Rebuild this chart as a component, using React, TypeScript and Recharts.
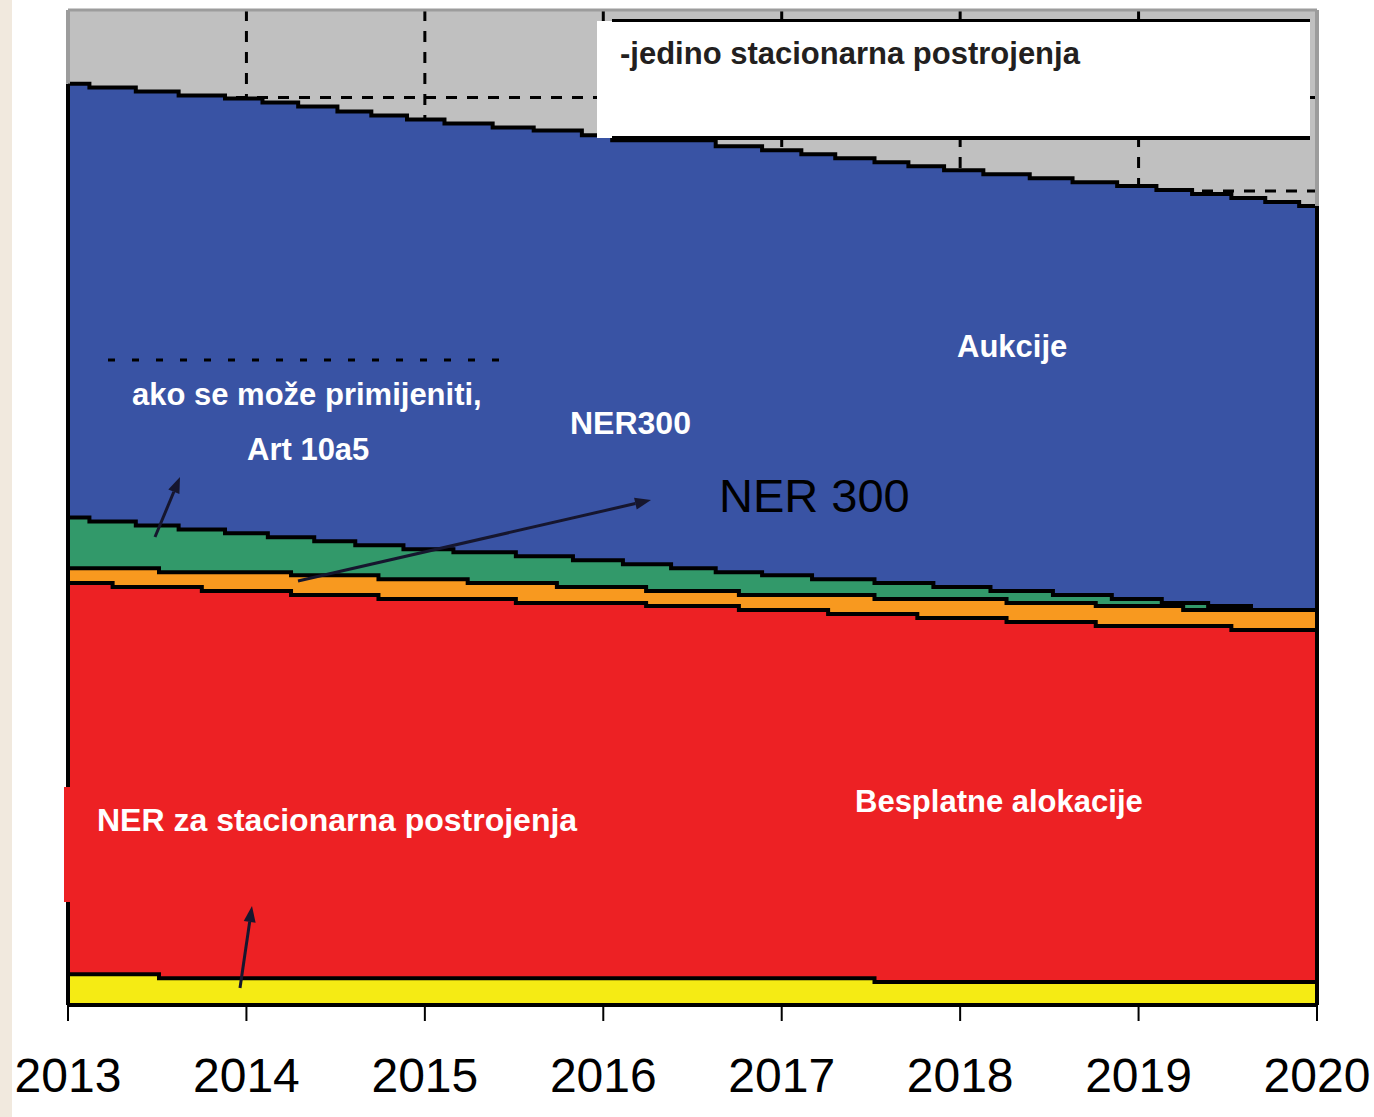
import React from "react";
import { AreaChart, Area, XAxis, YAxis, CartesianGrid, ReferenceLine } from "recharts";

type Step = [number, number];

const years = [2013, 2014, 2015, 2016, 2017, 2018, 2019, 2020];
const gridYears = [2014, 2015, 2016, 2017, 2018, 2019];
const gridLevels = [81.8, 91.2];

// step start (year) -> upper edge of the layer, in % of the vertical range
const aukcijeTop: Step[] = [
  [2013.0, 92.6], [2013.12, 92.2], [2013.38, 91.8], [2013.62, 91.4], [2013.88, 91.1],
  [2014.09, 90.7], [2014.29, 90.3], [2014.51, 89.8], [2014.7, 89.4], [2014.9, 89.0],
  [2015.11, 88.6], [2015.38, 88.2], [2015.61, 87.9], [2015.88, 87.4], [2016.05, 86.9],
  [2016.63, 86.3], [2016.89, 85.9], [2017.11, 85.5], [2017.3, 85.1], [2017.52, 84.7],
  [2017.71, 84.3], [2017.91, 83.9], [2018.13, 83.5], [2018.39, 83.1], [2018.63, 82.7],
  [2018.88, 82.3], [2019.1, 81.9], [2019.3, 81.5], [2019.52, 81.1], [2019.71, 80.7],
  [2019.9, 80.3],
];

const ner300Top: Step[] = [
  [2013.0, 49.0], [2013.12, 48.6], [2013.38, 48.2], [2013.62, 47.8], [2013.88, 47.4],
  [2014.12, 47.0], [2014.38, 46.6], [2014.61, 46.2], [2014.88, 45.8], [2015.16, 45.5],
  [2015.51, 45.1], [2015.83, 44.7], [2016.11, 44.3], [2016.38, 43.9], [2016.63, 43.5],
  [2016.89, 43.2], [2017.17, 42.8], [2017.52, 42.4], [2017.85, 42.0], [2018.17, 41.6],
  [2018.52, 41.2], [2018.85, 40.8], [2019.13, 40.4], [2019.39, 40.1], [2019.63, 39.7],
  [2019.88, 39.3],
];

const art10a5Top: Step[] = [
  [2013.0, 43.9], [2013.51, 43.5], [2014.25, 43.2], [2014.74, 42.8], [2015.24, 42.4],
  [2015.74, 42.0], [2016.24, 41.6], [2016.76, 41.2], [2017.52, 40.8], [2018.26, 40.4],
  [2018.76, 40.1], [2019.25, 39.7],
];

const besplatneTop: Step[] = [
  [2013.0, 42.4], [2013.25, 42.0], [2013.75, 41.6], [2014.25, 41.2], [2014.74, 40.8],
  [2015.51, 40.4], [2016.24, 40.1], [2016.76, 39.7], [2017.26, 39.3], [2017.76, 38.9],
  [2018.26, 38.5], [2018.76, 38.1], [2019.52, 37.7],
];

const nerStacTop: Step[] = [
  [2013.0, 3.1], [2013.51, 2.7], [2017.52, 2.3],
];

const layers = [
  { key: "aukcije", steps: aukcijeTop, fill: "#3953a4" },
  { key: "ner300", steps: ner300Top, fill: "#32996a" },
  { key: "art10a5", steps: art10a5Top, fill: "#f8991f" },
  { key: "besplatne", steps: besplatneTop, fill: "#ed2124" },
  { key: "nerStac", steps: nerStacTop, fill: "#f5eb14" },
];

function valueAt(steps: Step[], x: number) {
  let v = steps[0][1];
  for (const [sx, sv] of steps) if (sx <= x + 1e-9) v = sv;
  return v;
}

const breaks = Array.from(
  new Set([...layers.flatMap((l) => l.steps.map((s) => s[0])), 2020])
).sort((a, b) => a - b);

const data = breaks.map((x) => {
  const row: Record<string, number> = { year: x };
  layers.forEach((l) => (row[l.key] = valueAt(l.steps, x)));
  return row;
});

const firstTop = aukcijeTop[0][1];
const lastTop = aukcijeTop[aukcijeTop.length - 1][1];

const notes = [
  { text: "Aukcije", x: 957, y: 357, size: 31, bold: true, color: "#fff" },
  { text: "ako se može primijeniti,", x: 132, y: 405, size: 31, bold: true, color: "#fff" },
  { text: "Art 10a5", x: 247, y: 460, size: 31, bold: true, color: "#fff" },
  { text: "NER300", x: 570, y: 434, size: 32, bold: true, color: "#fff" },
  { text: "NER 300", x: 719, y: 512, size: 47, bold: false, color: "#000" },
  { text: "NER za stacionarna postrojenja", x: 97, y: 831, size: 32, bold: true, color: "#fff" },
  { text: "Besplatne alokacije", x: 855, y: 812, size: 31, bold: true, color: "#fff" },
];

const arrows = [
  [155, 537, 180, 477],
  [298, 581, 651, 500],
  [240, 988, 252, 906],
];

function YearTick(props: any) {
  const { x, y, payload } = props;
  return (
    <text
      x={x}
      y={y + 71}
      textAnchor="middle"
      fontFamily="'Liberation Sans', Arial, sans-serif"
      fontSize={48}
      fill="#000"
    >
      {payload.value}
    </text>
  );
}

function Arrow({ x1, y1, x2, y2 }: { x1: number; y1: number; x2: number; y2: number }) {
  const dx = x2 - x1;
  const dy = y2 - y1;
  const len = Math.hypot(dx, dy);
  const ux = dx / len;
  const uy = dy / len;
  const hl = 16;
  const hw = 6;
  const bx = x2 - ux * hl;
  const by = y2 - uy * hl;
  return (
    <g>
      <line x1={x1} y1={y1} x2={bx} y2={by} stroke="#16162e" strokeWidth={3} />
      <polygon
        points={`${x2},${y2} ${bx - uy * hw},${by + ux * hw} ${bx + uy * hw},${by - ux * hw}`}
        fill="#16162e"
      />
    </g>
  );
}

// grid rows at the same levels as the y axis ticks
const gridRows = (p: any) => {
  const scale = p?.yAxis?.scale;
  if (typeof scale === "function") return gridLevels.map((v) => scale(v));
  const top = p?.offset?.top ?? 10;
  const h = p?.offset?.height ?? 995;
  return gridLevels.map((v) => top + h * (1 - v / 100));
};

export default function App() {
  return (
    <div style={{ position: "absolute", left: 0, top: 0, width: 1374, height: 1117, background: "#fff" }}>
      <div style={{ position: "absolute", left: 0, top: 0, width: 12, height: 1117, background: "#f1e9de" }} />
      <div style={{ position: "absolute", left: 0, top: 0 }}>
        <AreaChart width={1374} height={1117} data={data} margin={{ top: 10, right: 57, left: 68, bottom: 0 }}>
          <CartesianGrid
            fill="#c0c0c0"
            fillOpacity={1}
            stroke="#000"
            strokeWidth={3}
            strokeDasharray="11 10"
            horizontalCoordinatesGenerator={gridRows}
            verticalValues={gridYears}
          />
          <XAxis
            dataKey="year"
            type="number"
            domain={[2013, 2020]}
            ticks={years}
            interval={0}
            height={112}
            tickSize={16}
            tickMargin={0}
            tickLine={{ stroke: "#000", strokeWidth: 2 }}
            axisLine={{ stroke: "#000", strokeWidth: 4 }}
            tick={<YearTick />}
          />
          <YAxis
            type="number"
            domain={[0, 100]}
            ticks={gridLevels}
            width={0}
            tick={false}
            tickLine={false}
            axisLine={false}
          />
          {layers.map((l) => (
            <Area
              key={l.key}
              dataKey={l.key}
              type="stepAfter"
              fill={l.fill}
              fillOpacity={1}
              stroke="#000"
              strokeWidth={4}
              isAnimationActive={false}
              dot={false}
              activeDot={false}
            />
          ))}
          <ReferenceLine segment={[{ x: 2013, y: 0 }, { x: 2013, y: firstTop }]} stroke="#000" strokeWidth={4} />
          <ReferenceLine segment={[{ x: 2013, y: firstTop }, { x: 2013, y: 100 }]} stroke="#9c9c9c" strokeWidth={4} />
          <ReferenceLine segment={[{ x: 2020, y: 0 }, { x: 2020, y: lastTop }]} stroke="#000" strokeWidth={4} />
          <ReferenceLine segment={[{ x: 2020, y: lastTop }, { x: 2020, y: 100 }]} stroke="#9c9c9c" strokeWidth={4} />
          <ReferenceLine segment={[{ x: 2013, y: 100 }, { x: 2020, y: 100 }]} stroke="#9c9c9c" strokeWidth={3} />
        </AreaChart>
      </div>
      <svg
        width={1374}
        height={1117}
        style={{ position: "absolute", left: 0, top: 0, pointerEvents: "none" }}
      >
        <rect x={597} y={21} width={713} height={117} fill="#fff" />
        <line x1={612} y1={20.5} x2={1310} y2={20.5} stroke="#000" strokeWidth={3} />
        <line x1={612} y1={138} x2={1310} y2={138} stroke="#000" strokeWidth={4} />
        <text
          x={620}
          y={64}
          fontFamily="'Liberation Sans', Arial, sans-serif"
          fontWeight="bold"
          fontSize={31}
          fill="#231f20"
        >
          -jedino stacionarna postrojenja
        </text>
        <line x1={108} y1={360} x2={512} y2={360} stroke="#000" strokeWidth={3} strokeDasharray="7 17" />
        <rect x={64} y={787} width={6} height={115} fill="#ed2124" />
        {notes.map((n) => (
          <text
            key={n.text}
            x={n.x}
            y={n.y}
            fontFamily="'Liberation Sans', Arial, sans-serif"
            fontWeight={n.bold ? "bold" : "normal"}
            fontSize={n.size}
            fill={n.color}
          >
            {n.text}
          </text>
        ))}
        {arrows.map(([x1, y1, x2, y2], i) => (
          <Arrow key={i} x1={x1} y1={y1} x2={x2} y2={y2} />
        ))}
      </svg>
    </div>
  );
}
